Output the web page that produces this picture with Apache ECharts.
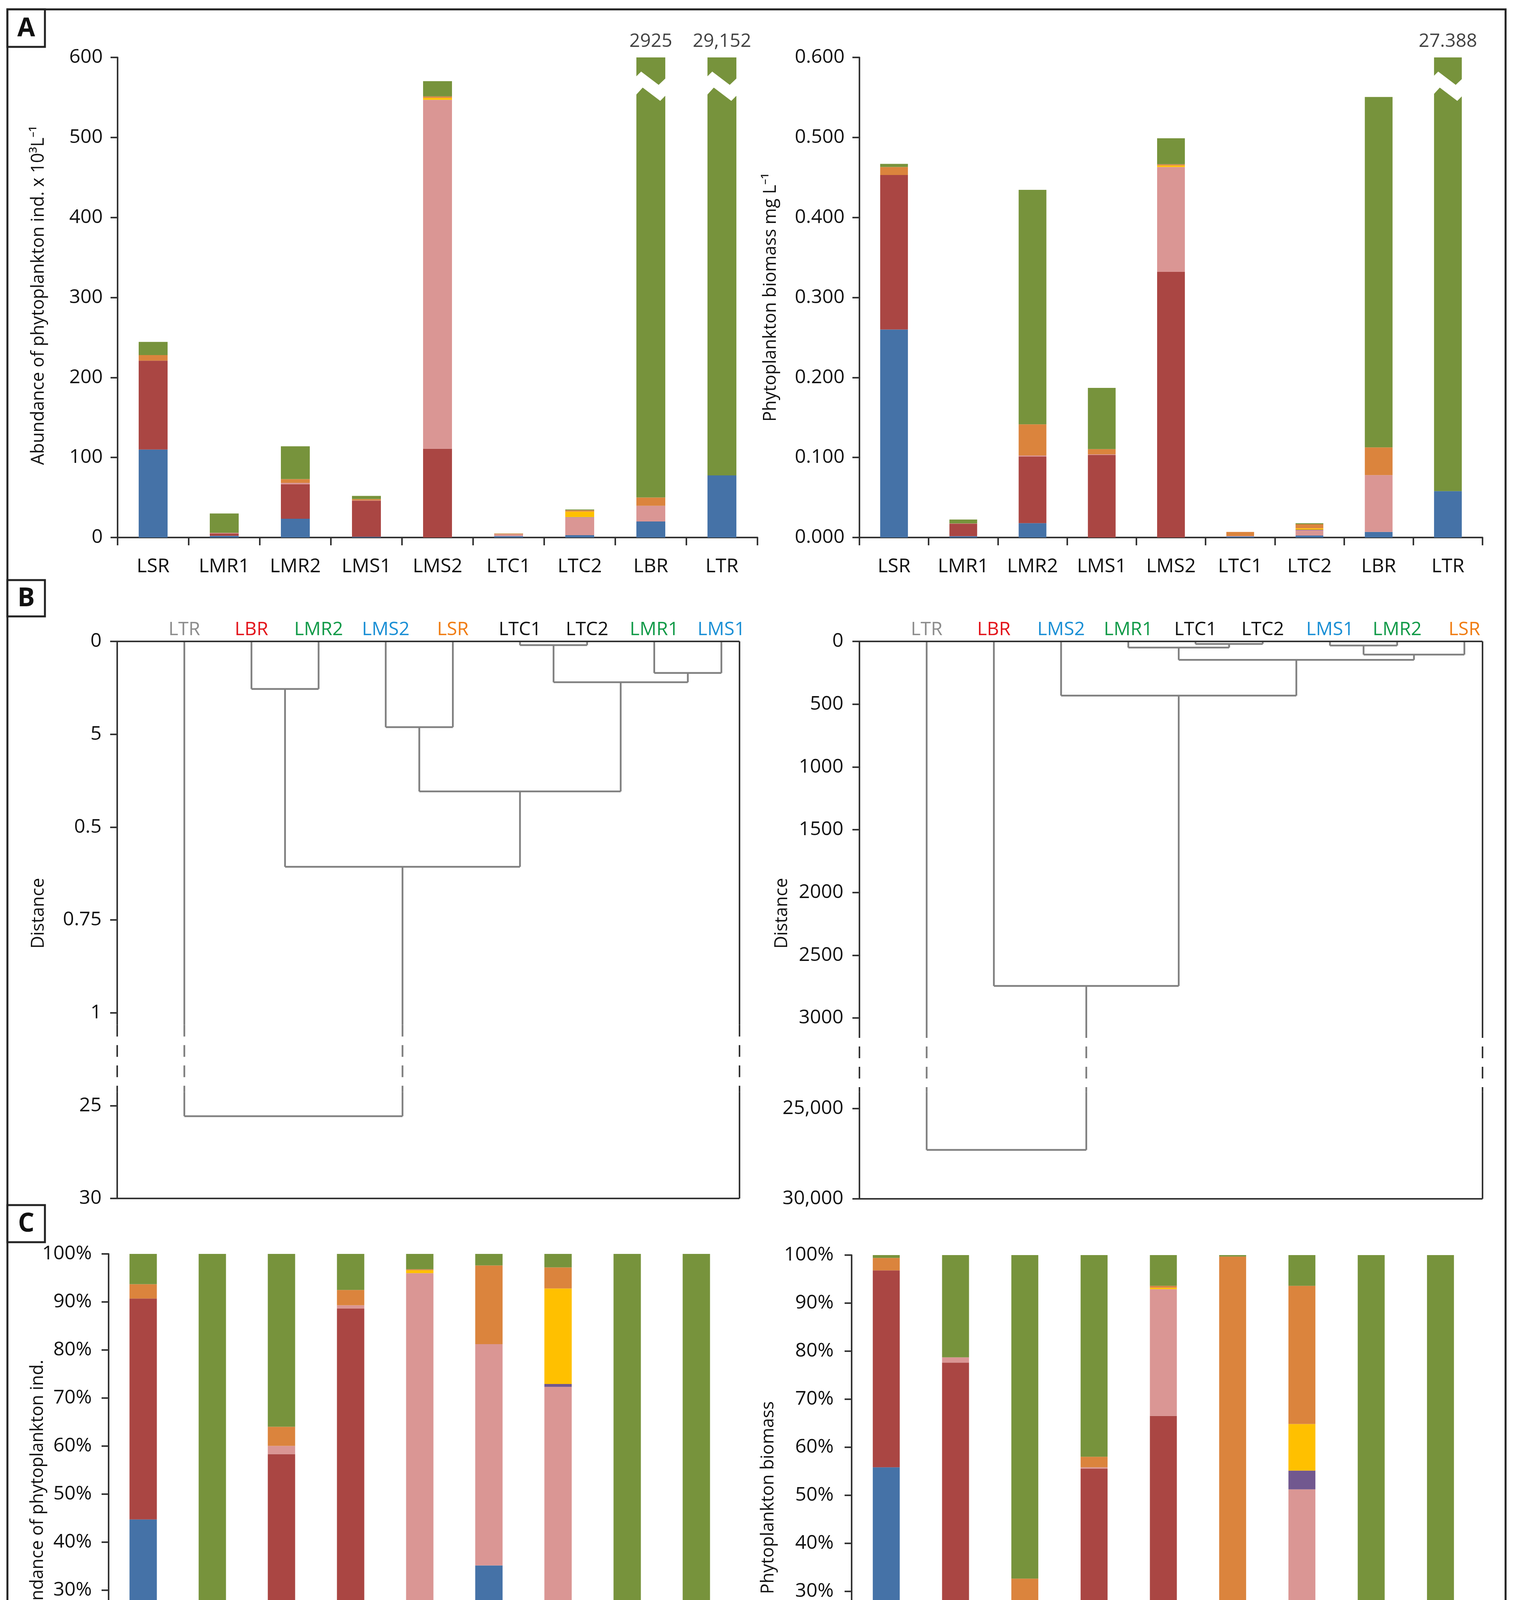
<!DOCTYPE html>
<html>
<head>
<meta charset="utf-8">
<script src="https://cdn.jsdelivr.net/npm/echarts@6.0.0/dist/echarts.min.js"></script>
<style>
html, body { margin: 0; padding: 0; background: #fff; }
#main { width: 3873px; height: 4762px; }
</style>
</head>
<body>
<div id="main"></div>
<script>
// sites and groups
var sites = ['LSR', 'LMR1', 'LMR2', 'LMS1', 'LMS2', 'LTC1', 'LTC2', 'LBR', 'LTR'];
var groups = ['Cyanobacteria', 'Dinophyta', 'Cryptophyta', 'Euglenophyta', 'Chrysophyta', 'Bacillariophta', 'Chlorophyta'];

// A left: abundance, ind. x 10^3 / L
var abCyano  = [110, 2.1, 23.4, 0.8, 0, 1.75, 2.9, 20, 77.6];
var abDino   = [111, 3, 43, 45.2, 111, 0, 0, 0, 0];
var abCrypto = [0, 0.75, 2, 0.4, 436, 2.3, 22.3, 19.7, 0];
var abEugl   = [0, 0, 0, 0, 0, 0, 0.25, 0, 0];
var abChryso = [0, 0, 0, 0, 2.5, 0, 7.0, 0, 0];
var abBacil  = [7, 0, 4.6, 1.7, 1.8, 0.83, 1.55, 10.3, 0];
var abChloro = [16.5, 24.2, 41, 3.9, 19, 0.12, 1.0, 2875, 29074];
var abTopLabels = ['', '', '', '', '', '', '', '2925', '29,152'];

// A right: biomass, mg / L
var bmCyano  = [0.260, 0.0016, 0.018, 0, 0, 0.0013, 0.0024, 0.007, 0.058];
var bmDino   = [0.193, 0.0157, 0.083, 0.103, 0.332, 0, 0, 0, 0];
var bmCrypto = [0, 0.0003, 0.0015, 0.001, 0.131, 0.0006, 0.0067, 0.071, 0];
var bmEugl   = [0, 0, 0, 0, 0, 0, 0.0007, 0, 0];
var bmChryso = [0, 0, 0, 0, 0.002, 0, 0.0017, 0, 0];
var bmBacil  = [0.010, 0, 0.039, 0.0065, 0.0015, 0.005, 0.0051, 0.0346, 0];
var bmChloro = [0.004, 0.0048, 0.293, 0.0765, 0.0325, 0.00005, 0.0012, 0.438, 27.33];
var bmTopLabels = ['', '', '', '', '', '', '', '', '27.388'];

// C left: abundance %
var pcAbCyano  = [44.7, 6.9, 20.5, 1.4, 0, 35.1, 8.3, 0.5, 0];
var pcAbDino   = [46, 10, 37.8, 87.2, 19.5, 0, 0, 0, 0];
var pcAbCrypto = [0, 2.6, 1.7, 0.7, 76.5, 46.1, 64, 0.7, 0];
var pcAbEugl   = [0, 0, 0, 0, 0, 0, 0.6, 0, 0];
var pcAbChryso = [0, 0, 0, 0, 0.6, 0, 19.9, 0, 0];
var pcAbBacil  = [3, 0, 4, 3.2, 0.2, 16.4, 4.4, 0.3, 0];
var pcAbChloro = [6.3, 80.5, 36, 7.5, 3.2, 2.4, 2.8, 98.5, 100];

// C right: biomass %
var pcBmCyano  = [55.8, 7, 4.1, 0, 0, 18.8, 13.5, 1.5, 0];
var pcBmDino   = [41, 70.6, 19.3, 55.5, 66.5, 0, 0, 0, 0];
var pcBmCrypto = [0, 1.1, 0.35, 0.3, 26.4, 8.9, 37.7, 12.6, 0];
var pcBmEugl   = [0, 0, 0, 0, 0, 0, 3.9, 0, 0];
var pcBmChryso = [0, 0, 0, 0, 0.3, 0, 9.7, 0, 0];
var pcBmBacil  = [2.6, 0, 8.85, 2.2, 0.4, 72, 28.8, 6.5, 0];
var pcBmChloro = [0.6, 21.3, 67.4, 42, 6.4, 0.3, 6.4, 79.4, 100];

// B left: cluster on abundance (distance)
var treeLeftLeaves = ['LTR', 'LBR', 'LMR2', 'LMS2', 'LSR', 'LTC1', 'LTC2', 'LMR1', 'LMS1'];
var treeLeftMerges = [['LTC1', 'LTC2', 0.01], ['LMR1', 'LMS1', 0.085], [0, 1, 0.11], ['LBR', 'LMR2', 0.128],
                      ['LMS2', 'LSR', 0.231], [4, 2, 0.404], [3, 5, 0.607], ['LTR', 6, 25.57]];
var treeLeftTickValues = [0, 0.25, 0.5, 0.75, 1, 25, 30];
var treeLeftTickLabels = ['0', '5', '0.5', '0.75', '1', '25', '30'];

// B right: cluster on biomass (distance)
var treeRightLeaves = ['LTR', 'LBR', 'LMS2', 'LMR1', 'LTC1', 'LTC2', 'LMS1', 'LMR2', 'LSR'];
var treeRightMerges = [['LTC1', 'LTC2', 20], ['LMS1', 'LMR2', 33], ['LMR1', 0, 49], [1, 'LSR', 105],
                       [2, 3, 147], ['LMS2', 4, 432], ['LBR', 5, 2744], ['LTR', 6, 27295]];
var treeRightTickValues = [0, 500, 1000, 1500, 2000, 2500, 3000, 25000, 30000];
var treeRightTickLabels = ['0', '500', '1000', '1500', '2000', '2500', '3000', '25,000', '30,000'];

// ---- styles / layout ----
var colors = ['#4572A7', '#AA4643', '#DA9694', '#71588F', '#FFC000', '#DB843D', '#77933C'];
var leafColor = { LTR: '#8c8c8c', LBR: '#e3141b', LMR1: '#119a48', LMR2: '#119a48', LMS1: '#1a8fd5',
                  LMS2: '#1a8fd5', LSR: '#f07c12', LTC1: '#111', LTC2: '#111' };
var F = "'Open Sans', 'Liberation Sans', sans-serif";
var axisCol = '#333';
var leftTickPos = [0, 1, 2, 3, 4, 5, 6];
var rightTickPos = [0, 1, 2, 3, 4, 5, 6, 7.44, 8.88];
var leftBreak = [4.13, 4.855];
var rightBreak = [6.13, 7.18];
var treeXMax = 9.27;

function toPos(d, vals, pos) {
    for (var i = 0; i < vals.length - 1; i++) {
        if (d <= vals[i + 1]) {
            return pos[i] + (d - vals[i]) / (vals[i + 1] - vals[i]) * (pos[i + 1] - pos[i]);
        }
    }
    return pos[pos.length - 1];
}

function layoutTree(leaves, merges, vals, pos) {
    var nodes = [], segs = [];
    function info(ref) {
        if (typeof ref === 'string') return { x: leaves.indexOf(ref) + 1, y: 0 };
        return nodes[ref];
    }
    merges.forEach(function (m) {
        var a = info(m[0]), b = info(m[1]), y = toPos(m[2], vals, pos);
        segs.push([a.x, a.y, a.x, y], [b.x, b.y, b.x, y], [a.x, y, b.x, y]);
        nodes.push({ x: (a.x + b.x) / 2, y: y });
    });
    return segs;
}

function segRender(brk, width) {
    return function (params, api) {
        var x1 = api.value(0), y1 = api.value(1), x2 = api.value(2), y2 = api.value(3);
        var col = api.visual('color');
        function ln(xa, ya, xb, yb, dashed) {
            var p = api.coord([xa, ya]), q = api.coord([xb, yb]);
            return { type: 'line', shape: { x1: p[0], y1: p[1], x2: q[0], y2: q[1] },
                     style: { stroke: col, lineWidth: width, lineDash: dashed ? [30, 22] : null } };
        }
        var lo = Math.min(y1, y2), hi = Math.max(y1, y2);
        if (x1 === x2 && lo < brk[0] && hi > brk[1]) {
            return { type: 'group', children: [
                ln(x1, lo, x1, brk[0], false),
                ln(x1, brk[0], x1, brk[1], true),
                ln(x1, brk[1], x1, hi, false)
            ] };
        }
        return ln(x1, y1, x2, y2, false);
    };
}

function breakRender(params, api) {
    var p = api.coord([api.value(0), api.value(1)]);
    var w = 80, l = p[0] - w / 2, y = p[1];
    return { type: 'polygon', shape: { points: [
        [l, y], [l + 0.19 * w, y - 15], [l + 0.75 * w, y + 19], [l + w, y],
        [l + w, y + 44], [l + 0.8 * w, y + 60], [l + 0.24 * w, y + 26], [l, y + 47]] },
        style: { fill: '#fff' } };
}

var grids = [
    { left: 301, top: 147, width: 1638, height: 1229 },
    { left: 2200, top: 147, width: 1595, height: 1229 },
    { left: 300, top: 1642, width: 1593, height: 1426 },
    { left: 2200, top: 1642, width: 1595, height: 1427 },
    { left: 278, top: 3210, width: 1593, height: 1229 },
    { left: 2180, top: 3213, width: 1596, height: 1229 }
];

function catAxis(gi) {
    return { type: 'category', gridIndex: gi, data: sites,
        axisLine: { lineStyle: { color: axisCol, width: 4 } },
        axisTick: { show: true, interval: 0, length: 20, lineStyle: { color: axisCol, width: 4 } },
        axisLabel: { color: '#111', fontSize: 50, fontFamily: F, margin: 50, interval: 0 } };
}
function valAxis(gi, min, max, step, margin, fmt) {
    return { type: 'value', gridIndex: gi, min: min, max: max, interval: step,
        axisLine: { show: true, lineStyle: { color: axisCol, width: 4 } },
        axisTick: { show: true, length: 18, lineStyle: { color: axisCol, width: 4 } },
        splitLine: { show: false },
        axisLabel: { color: '#111', fontSize: 50, fontFamily: F, margin: margin, formatter: fmt } };
}
function treeXAxis(gi, leaves) {
    var rich = {};
    leaves.forEach(function (n) { rich[n] = { color: leafColor[n], fontSize: 48, fontFamily: F }; });
    return { type: 'value', gridIndex: gi, position: 'top', min: 0, max: treeXMax,
        axisLine: { show: false }, axisTick: { show: false }, splitLine: { show: false },
        axisLabel: { customValues: leaves.map(function (n, i) { return i + 1; }), margin: 6,
            formatter: function (v) { var n = leaves[Math.round(v) - 1]; return n ? '{' + n + '|' + n + '}' : ''; },
            rich: rich } };
}
function treeYAxis(gi, tickPos, tickLabels, margin) {
    return { type: 'value', gridIndex: gi, inverse: true, min: 0, max: tickPos[tickPos.length - 1],
        axisLine: { show: false }, splitLine: { show: false },
        axisTick: { show: true, customValues: tickPos, length: 18, lineStyle: { color: axisCol, width: 4 } },
        axisLabel: { customValues: tickPos, color: '#111', fontSize: 50, fontFamily: F, margin: margin,
            formatter: function (v) {
                for (var i = 0; i < tickPos.length; i++) { if (Math.abs(tickPos[i] - v) < 1e-6) return tickLabels[i]; }
                return '';
            } } };
}

var series = [];
function addBars(gi, arrays, width) {
    arrays.forEach(function (arr, k) {
        series.push({ type: 'bar', name: groups[k], xAxisIndex: gi, yAxisIndex: gi, stack: 'p' + gi,
            data: arr, barWidth: width, clip: true, itemStyle: { color: colors[k] } });
    });
}
function addBreaks(gi, arrays, max, breakAt, labels) {
    var marks = [], tops = [];
    sites.forEach(function (s, i) {
        var tot = 0;
        arrays.forEach(function (a) { tot += a[i]; });
        if (tot > max) marks.push([i, breakAt]);
        if (labels[i]) tops.push({ value: [i, max], label: { formatter: labels[i] } });
    });
    series.push({ type: 'custom', xAxisIndex: gi, yAxisIndex: gi, data: marks, z: 5,
        renderItem: breakRender, silent: true });
    series.push({ type: 'scatter', xAxisIndex: gi, yAxisIndex: gi, data: tops, symbolSize: 1, z: 6,
        itemStyle: { color: 'rgba(0,0,0,0)' }, silent: true,
        label: { show: true, position: 'top', distance: 16, color: '#111', fontSize: 48, fontFamily: F } });
}
function addTree(gi, segs, tickPos, brk) {
    var xm = treeXMax, ym = tickPos[tickPos.length - 1];
    series.push({ type: 'custom', xAxisIndex: gi, yAxisIndex: gi, data: segs, silent: true,
        encode: { x: [0, 2], y: [1, 3] }, itemStyle: { color: '#808080' }, renderItem: segRender(brk, 4.5) });
    series.push({ type: 'custom', xAxisIndex: gi, yAxisIndex: gi, silent: true, z: 3,
        data: [[0, 0, xm, 0], [0, ym, xm, ym], [0, 0, 0, ym], [xm, 0, xm, ym]],
        encode: { x: [0, 2], y: [1, 3] }, itemStyle: { color: axisCol }, renderItem: segRender(brk, 4) });
}

var abArrays = [abCyano, abDino, abCrypto, abEugl, abChryso, abBacil, abChloro];
var bmArrays = [bmCyano, bmDino, bmCrypto, bmEugl, bmChryso, bmBacil, bmChloro];
addBars(0, abArrays, 74);
addBreaks(0, abArrays, 600, 575, abTopLabels);
addBars(1, bmArrays, 71);
addBreaks(1, bmArrays, 0.6, 0.575, bmTopLabels);
addTree(2, layoutTree(treeLeftLeaves, treeLeftMerges, treeLeftTickValues, leftTickPos), leftTickPos, leftBreak);
addTree(3, layoutTree(treeRightLeaves, treeRightMerges, treeRightTickValues, rightTickPos), rightTickPos, rightBreak);
addBars(4, [pcAbCyano, pcAbDino, pcAbCrypto, pcAbEugl, pcAbChryso, pcAbBacil, pcAbChloro], 70);
addBars(5, [pcBmCyano, pcBmDino, pcBmCrypto, pcBmEugl, pcBmChryso, pcBmBacil, pcBmChloro], 69);

function vtitle(x, y, text) {
    return { type: 'text', x: x, y: y, rotation: Math.PI / 2, silent: true,
        style: { text: text, fontSize: 45, fontFamily: F, fill: '#111', align: 'center', verticalAlign: 'middle' } };
}
function letterBox(y0, y1, letter) {
    return [
        { type: 'rect', shape: { x: 19, y: y0, width: 96, height: y1 - y0 }, style: { fill: '#fff', stroke: '#222', lineWidth: 5 } },
        { type: 'text', x: 67, y: (y0 + y1) / 2 + 2, style: { text: letter, fontSize: 66, fontWeight: 'bold', fontFamily: F,
          fill: '#111', align: 'center', verticalAlign: 'middle' } }
    ];
}

var pct = function (v) { return v + '%'; };
var option = {
    animation: false,
    backgroundColor: '#fff',
    textStyle: { fontFamily: F },
    grid: grids,
    xAxis: [catAxis(0), catAxis(1), treeXAxis(2, treeLeftLeaves), treeXAxis(3, treeRightLeaves), catAxis(4), catAxis(5)],
    yAxis: [
        valAxis(0, 0, 600, 100, 38),
        valAxis(1, 0, 0.6, 0.1, 38, function (v) { return v.toFixed(3); }),
        treeYAxis(2, leftTickPos, treeLeftTickLabels, 40),
        treeYAxis(3, rightTickPos, treeRightTickLabels, 41),
        valAxis(4, 0, 100, 10, 43, pct),
        valAxis(5, 0, 100, 10, 46, pct)
    ],
    legend: { data: groups, left: 160, top: 4646, icon: 'rect', itemWidth: 34, itemHeight: 44, itemGap: 118,
        selectedMode: false, textStyle: { fontSize: 58, fontFamily: F, color: '#111', padding: [0, 0, 0, 0] } },
    series: series,
    graphic: [
        { type: 'rect', shape: { x: 19, y: 24, width: 3835, height: 4724 }, style: { fill: 'none', stroke: '#222', lineWidth: 5 }, silent: true },
        vtitle(99, 756, 'Abundance of phytoplankton ind. x 10\u00B3L\u207B\u00B9'),
        vtitle(1973, 761, 'Phytoplankton biomass mg L\u207B\u00B9'),
        vtitle(99, 2338, 'Distance'),
        vtitle(2002, 2338, 'Distance'),
        vtitle(97, 3831, 'Abundance of phytoplankton ind.'),
        vtitle(1967, 3834, 'Phytoplankton biomass')
    ].concat(letterBox(24, 120, 'A'), letterBox(1485, 1578, 'B'), letterBox(3085, 3180, 'C'))
};

var chart = echarts.init(document.getElementById('main'));
chart.setOption(option);
window.addEventListener('resize', function () { chart.resize(); });
</script>
</body>
</html>
